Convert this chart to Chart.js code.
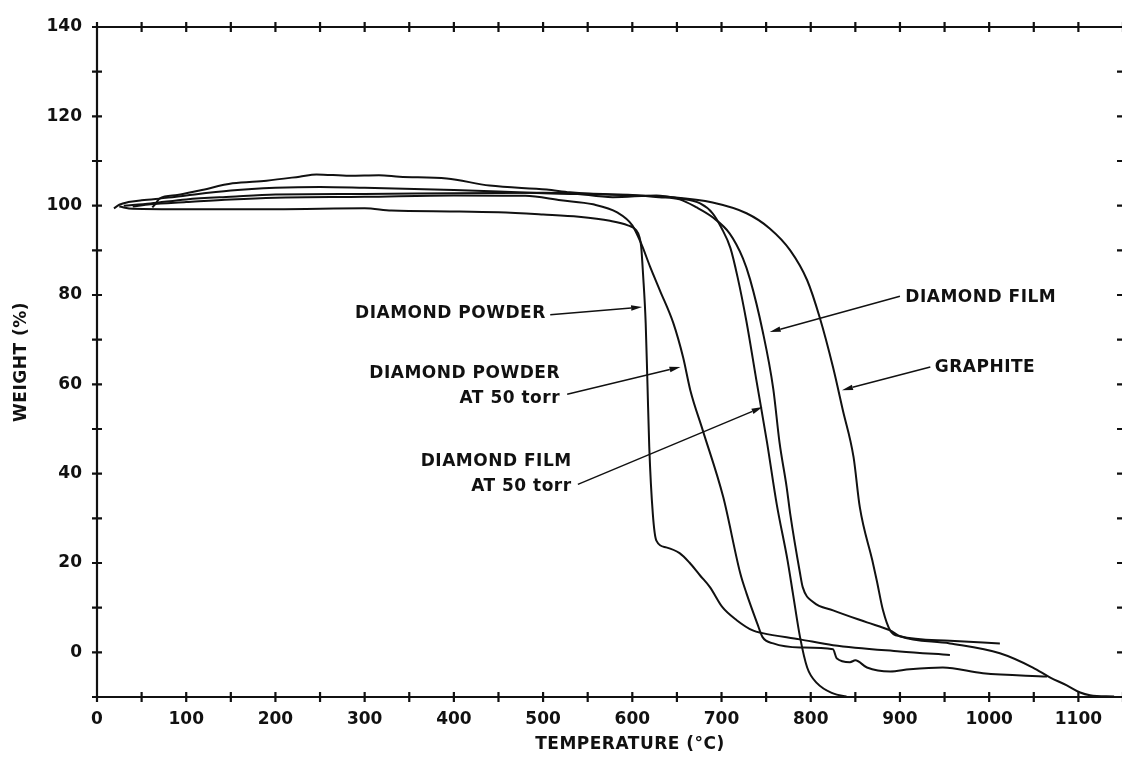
<!DOCTYPE html>
<html>
<head>
<meta charset="utf-8">
<title>Thermogravimetric oxidation of diamond and graphite</title>
<script src="https://cdn.jsdelivr.net/npm/chart.js@4.4.1/dist/chart.umd.min.js"></script>
<style>
  html, body { margin: 0; padding: 0; background: #fff; overflow: hidden; }
  #wrap { position: relative; width: 1135px; height: 758px; }
</style>
</head>
<body>
<div id="wrap"><canvas id="tga"></canvas></div>
<script>
// Temperature (°C) and weight (%) samples for each trace
const powderT = [25, 40, 100, 200, 300, 330, 400, 450, 500, 540, 575, 595, 604, 608, 610, 612, 615, 617, 619, 623, 627, 638, 653, 664, 676, 687, 701, 717, 735, 746, 788, 825, 900, 956];
const powderW = [99.8, 99.3, 99.2, 99.2, 99.4, 98.9, 98.7, 98.5, 98.0, 97.5, 96.6, 95.6, 94.6, 93.0, 90.7, 84.8, 73.7, 60, 46, 31, 25, 23.5, 22.2, 20.1, 17.2, 14.6, 10.1, 7.2, 4.9, 4.3, 2.9, 1.6, 0.2, -0.6];

const powder50T = [40, 60, 100, 150, 200, 300, 400, 480, 520, 556, 583, 600, 610, 620, 631, 646, 657, 665, 679, 702, 721, 728, 740, 746, 758, 788, 825, 829, 844, 850, 863, 889, 911, 948, 993, 1065];
const powder50W = [99.8, 100.3, 100.8, 101.4, 101.8, 102.0, 102.3, 102.2, 101.2, 100.3, 98.5, 95.6, 91.5, 86.3, 81, 73.7, 66, 58.7, 49.7, 34.7, 17.7, 13.2, 6.5, 3.4, 2.0, 1.1, 0.7, -1.3, -2.2, -1.8, -3.4, -4.3, -3.8, -3.4, -4.7, -5.4];

const filmT = [62, 66, 70, 90, 115, 152, 190, 227, 246, 283, 316, 339, 392, 440, 504, 530, 552, 600, 630, 653, 672, 690, 709, 724, 732, 746, 758, 765, 773, 777, 788, 791, 803, 825, 863, 889, 900, 956, 1012, 1049, 1068, 1087, 1102, 1113, 1140];
const filmW = [99.6, 100.5, 101.6, 102.4, 103.4, 105.0, 105.6, 106.5, 107.0, 106.7, 106.8, 106.5, 106.1, 104.5, 103.6, 103.0, 102.7, 102.4, 101.9, 101.4, 99.6, 97.4, 93.8, 88.2, 83.5, 72, 59, 47, 37, 31, 17.7, 14.6, 11.2, 9.4, 6.7, 4.9, 3.6, 2.0, -0.2, -3.4, -5.6, -7.4, -9.0, -9.6, -9.9];

const film50T = [30, 60, 100, 150, 200, 300, 400, 500, 530, 578, 627, 653, 676, 690, 700, 710, 718, 728, 739, 751, 762, 774, 780, 788, 796, 807, 825, 840];
const film50W = [100, 100.5, 101.4, 102.0, 102.5, 102.6, 102.8, 102.9, 102.8, 101.9, 102.3, 101.6, 100.5, 98.3, 95, 90.5, 84, 74, 61, 47, 33, 20.6, 13.2, 3.4, -3.4, -6.9, -9.2, -9.9];

const graphiteT = [19, 25, 35, 50, 80, 100, 150, 200, 250, 300, 400, 500, 600, 645, 690, 728, 754, 777, 796, 810, 825, 836, 848, 855, 869, 874, 881, 889, 900, 956, 1012];
const graphiteW = [99.4, 100.2, 100.8, 101.2, 101.8, 102.3, 103.4, 104.0, 104.2, 104.0, 103.5, 102.8, 102.3, 101.9, 100.7, 98.3, 94.9, 90, 83.3, 75, 63.8, 54.2, 43.7, 32.5, 20.6, 16.1, 9.4, 4.9, 3.6, 2.6, 2.0];

// Axis ranges and labelled ticks
const tempRange = [0, 1150];
const weightRange = [-10, 140];
const tempLabels = [0, 100, 200, 300, 400, 500, 600, 700, 800, 900, 1000, 1100];
const weightLabels = [0, 20, 40, 60, 80, 100, 120, 140];

const xTitle = 'TEMPERATURE (°C)';
const yTitle = 'WEIGHT (%)';

// Callout labels with leader arrows, placed in data coordinates
const callouts = [
  { lines: ['DIAMOND POWDER'], align: 'right', at: [503, 75.8], tail: [508, 75.6], tip: [611, 77.3] },
  { lines: ['DIAMOND POWDER', 'AT 50 torr'], align: 'right', at: [519, 62.5], tail: [527, 57.8], tip: [654, 63.9] },
  { lines: ['DIAMOND FILM', 'AT 50 torr'], align: 'right', at: [532, 42.6], tail: [539, 37.6], tip: [746, 54.9] },
  { lines: ['DIAMOND FILM'], align: 'left', at: [906, 79.5], tail: [900, 79.7], tip: [754, 71.7] },
  { lines: ['GRAPHITE'], align: 'left', at: [939, 63.7], tail: [934, 63.9], tip: [835, 58.7] }
];

const INK = '#111';
const FONT = '"DejaVu Sans", sans-serif';

function series(ts, ws) { return ts.map((t, i) => ({ x: t, y: ws[i] })); }

function trace(label, ts, ws) {
  return {
    label,
    data: series(ts, ws),
    borderColor: INK,
    borderWidth: 2,
    pointRadius: 0,
    fill: false,
    cubicInterpolationMode: 'monotone'
  };
}

// Box frame with cross-shaped ticks on every side
const frameTicks = {
  id: 'frameTicks',
  afterDatasetsDraw(chart) {
    const { ctx, chartArea: a, scales: { x, y } } = chart;
    ctx.save();
    ctx.strokeStyle = INK;
    ctx.lineWidth = 2.2;
    ctx.lineCap = 'butt';
    ctx.beginPath();
    ctx.moveTo(a.left, a.bottom); ctx.lineTo(a.left, a.top); ctx.lineTo(a.right, a.top);
    ctx.moveTo(a.left - 1, a.bottom); ctx.lineTo(a.right, a.bottom);
    x.ticks.forEach(t => {
      const px = x.getPixelForValue(t.value);
      ctx.moveTo(px, a.bottom - 5); ctx.lineTo(px, a.bottom + 5);
      ctx.moveTo(px, a.top - 5); ctx.lineTo(px, a.top + 5);
    });
    y.ticks.forEach(t => {
      const py = y.getPixelForValue(t.value);
      ctx.moveTo(a.left - 5, py); ctx.lineTo(a.left + 5, py);
      ctx.moveTo(a.right - 6, py); ctx.lineTo(a.right, py);
    });
    ctx.stroke();
    ctx.restore();
  }
};

// Axis titles and arrowed callouts
const notes = {
  id: 'notes',
  afterDraw(chart) {
    const { ctx, chartArea: a, scales: { x, y } } = chart;
    ctx.save();
    ctx.fillStyle = INK;
    ctx.strokeStyle = INK;
    ctx.font = 'bold 17px ' + FONT;
    if ('letterSpacing' in ctx) ctx.letterSpacing = '0.5px';
    ctx.textBaseline = 'middle';

    // axis titles
    ctx.textAlign = 'center';
    ctx.fillText(xTitle, 630, 745);
    ctx.save();
    ctx.translate(22, (a.top + a.bottom) / 2);
    ctx.rotate(-Math.PI / 2);
    ctx.fillText(yTitle, 0, 0);
    ctx.restore();

    callouts.forEach(c => {
      const tx = x.getPixelForValue(c.at[0]);
      const ty = y.getPixelForValue(c.at[1]);
      ctx.textAlign = c.align;
      c.lines.forEach((s, i) => ctx.fillText(s, tx, ty + i * 25));

      const x0 = x.getPixelForValue(c.tail[0]), y0 = y.getPixelForValue(c.tail[1]);
      const x1 = x.getPixelForValue(c.tip[0]), y1 = y.getPixelForValue(c.tip[1]);
      const ang = Math.atan2(y1 - y0, x1 - x0);
      const len = 11, half = 2.8;
      const bx = x1 - len * Math.cos(ang), by = y1 - len * Math.sin(ang);
      ctx.lineWidth = 1.5;
      ctx.beginPath();
      ctx.moveTo(x0, y0); ctx.lineTo(bx, by);
      ctx.stroke();
      ctx.beginPath();
      ctx.moveTo(x1, y1);
      ctx.lineTo(bx + half * Math.sin(ang), by - half * Math.cos(ang));
      ctx.lineTo(bx - half * Math.sin(ang), by + half * Math.cos(ang));
      ctx.closePath();
      ctx.fill();
    });
    ctx.restore();
  }
};

new Chart(document.getElementById('tga'), {
  type: 'line',
  data: {
    datasets: [
      trace('DIAMOND POWDER', powderT, powderW),
      trace('DIAMOND POWDER AT 50 torr', powder50T, powder50W),
      trace('DIAMOND FILM', filmT, filmW),
      trace('DIAMOND FILM AT 50 torr', film50T, film50W),
      trace('GRAPHITE', graphiteT, graphiteW)
    ]
  },
  options: {
    responsive: true,
    maintainAspectRatio: false,
    animation: false,
    devicePixelRatio: 1,
    layout: { padding: { top: 27, right: 0, left: 0, bottom: 0 } },
    plugins: { legend: { display: false }, tooltip: { enabled: false } },
    scales: {
      x: {
        type: 'linear',
        min: tempRange[0],
        max: tempRange[1],
        afterFit(s) { s.height = 61; },
        grid: { display: false, drawTicks: false },
        border: { display: false },
        ticks: {
          stepSize: 50,
          autoSkip: false,
          maxRotation: 0,
          padding: 12,
          color: INK,
          font: { family: FONT, size: 17, weight: 'bold' },
          callback: v => tempLabels.includes(v) ? String(v) : ''
        }
      },
      y: {
        type: 'linear',
        min: weightRange[0],
        max: weightRange[1],
        afterFit(s) { s.width = 97; },
        grid: { display: false, drawTicks: false },
        border: { display: false },
        ticks: {
          stepSize: 10,
          autoSkip: false,
          padding: 15,
          color: INK,
          font: { family: FONT, size: 17, weight: 'bold' },
          callback: v => weightLabels.includes(v) ? String(v) : ''
        }
      }
    }
  },
  plugins: [frameTicks, notes]
});
</script>
</body>
</html>
